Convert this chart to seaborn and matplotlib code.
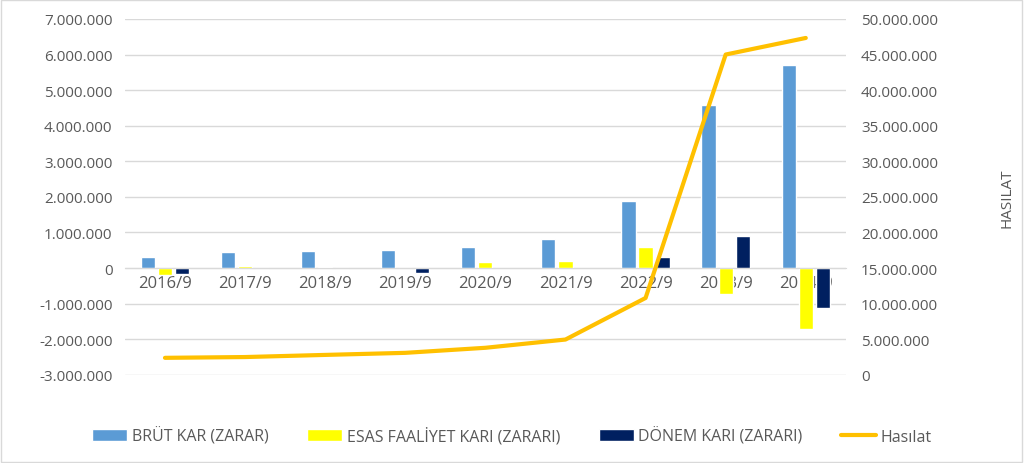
import seaborn as sns
import matplotlib.pyplot as plt
import pandas as pd
import numpy as np
from matplotlib.ticker import FuncFormatter, MultipleLocator

# data (TL)
donem = ["2016/9", "2017/9", "2018/9", "2019/9", "2020/9", "2021/9", "2022/9", "2023/9", "2024/9"]
brut_kar = [318000, 440000, 480000, 505000, 590000, 805000, 1880000, 4590000, 5710000]
esas_faaliyet = [-190000, 60000, 30000, 0, 160000, 205000, 580000, -740000, -1720000]
donem_kari = [-180000, 0, 0, -140000, 0, 0, 310000, 910000, -1115000]
hasilat = [2390000, 2500000, 2800000, 3090000, 3800000, 4960000, 10800000, 45000000, 47330000]

seriler = ["BRÜT KAR (ZARAR)", "ESAS FAALİYET KARI (ZARARI)", "DÖNEM KARI (ZARARI)"]
renkler = ["#5B9BD5", "#FFFF00", "#002060"]

df = pd.DataFrame({"donem": donem, seriler[0]: brut_kar, seriler[1]: esas_faaliyet, seriler[2]: donem_kari})
df = df.melt(id_vars="donem", var_name="seri", value_name="deger")

sns.set_style("white")
plt.rcParams['font.family'] = ['Open Sans', 'DejaVu Sans']
grey = "#595959"

fig = plt.figure(figsize=(10.24, 4.64), dpi=100)
ax = fig.add_axes([0.122, 0.19, 0.704, 0.767])

sns.barplot(data=df, x="donem", y="deger", hue="seri", palette=renkler, width=0.64, gap=0.17,
            ax=ax, legend=True, saturation=1)

nokta = lambda v, p: f"{v:,.0f}".replace(",", ".")

ax.set_ylim(-3000000, 7000000)
ax.yaxis.set_major_locator(MultipleLocator(1000000))
ax.yaxis.set_major_formatter(FuncFormatter(nokta))
ax.grid(axis="y", color="#D9D9D9", linewidth=1)
ax.set_axisbelow(True)
for s in ["top", "right", "left"]:
    ax.spines[s].set_visible(False)
ax.spines["bottom"].set_position(("data", 0))
ax.spines["bottom"].set_color("#D9D9D9")
ax.set_xlabel("")
ax.set_ylabel("")
ax.tick_params(axis="y", length=0, labelsize=11, labelcolor=grey, pad=9)
ax.tick_params(axis="x", length=0, labelsize=12, labelcolor=grey, pad=5)
ax.set_xlim(-0.5, 8.5)

ax2 = ax.twinx()
sns.lineplot(x=np.arange(len(donem)), y=hasilat, ax=ax2, color="#FFC000", linewidth=3, label="Hasılat")
ax2.set_ylim(0, 50000000)
ax2.yaxis.set_major_locator(MultipleLocator(5000000))
ax2.yaxis.set_major_formatter(FuncFormatter(nokta))
for s in ax2.spines.values():
    s.set_visible(False)
ax2.tick_params(axis="y", length=0, labelsize=11, labelcolor=grey, pad=11)
ax2.set_ylabel("HASILAT", fontsize=11, color=grey, labelpad=44)
ax2.set_xlim(-0.5, 8.5)

h1, l1 = ax.get_legend_handles_labels()
h2, l2 = ax2.get_legend_handles_labels()
ax.get_legend().remove()
ax2.get_legend().remove()
fig.legend(h1 + h2, l1 + l2, loc="center", bbox_to_anchor=(0.5, 0.058), ncol=4, frameon=False,
           fontsize=11.5, labelcolor=grey, handlelength=2.2, handleheight=0.8,
           handletextpad=0.3, columnspacing=2.4)

fig.patches.append(plt.Rectangle((0.001, 0.002), 0.997, 0.995, transform=fig.transFigure,
                                 fill=False, edgecolor="#D9D9D9", linewidth=1))
fig.savefig("out.png", dpi=100)
